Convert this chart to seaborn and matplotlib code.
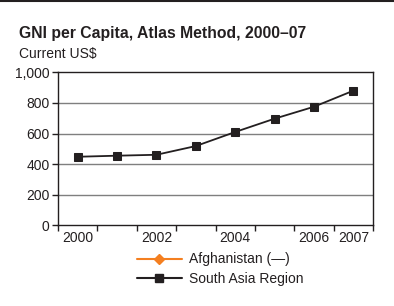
import matplotlib
matplotlib.use("Agg")
import matplotlib.pyplot as plt
import seaborn as sns
import pandas as pd
from matplotlib.lines import Line2D

years = ["2000", "2001", "2002", "2003", "2004", "2005", "2006", "2007"]
south_asia = [448, 455, 461, 518, 610, 697, 775, 880]
year_labels = ["2000", "", "2002", "", "2004", "", "2006", "2007"]
y_ticks = [0, 200, 400, 600, 800, 1000]
y_tick_labels = ["0", "200", "400", "600", "800", "1,000"]
title = "GNI per Capita, Atlas Method, 2000–07"
subtitle = "Current US$"
series_names = ["Afghanistan (—)", "South Asia Region"]

sns.set_theme(style="white")
plt.rcParams['font.family'] = ['Liberation Sans', 'DejaVu Sans']

df = pd.DataFrame({"x": list(range(len(years))), "value": south_asia})

fig = plt.figure(figsize=(3.94, 3.06), dpi=100)
ax = fig.add_axes([0.147, 0.2637, 0.8, 0.5])

for v in y_ticks[1:-1]:
    ax.axhline(v, color="#7f7f7f", lw=1.0, zorder=1)

sns.lineplot(data=df, x="x", y="value", ax=ax, color="#231f20", lw=1.3,
             marker="s", markersize=6, markeredgecolor="#231f20", zorder=3)

ax.set_xlim(-0.5, len(years) - 0.5)
ax.set_ylim(0, 1000)
ax.set_yticks(y_ticks)
ax.set_yticklabels(y_tick_labels, fontsize=10, color="#231f20")
ax.set_xticks([i - 0.5 for i in range(len(years) + 1)], minor=True)
ax.set_xticks(list(range(len(years))))
ax.set_xticklabels(year_labels, fontsize=10, color="#231f20")
ax.tick_params(axis="x", which="major", length=0, pad=4)
ax.tick_params(axis="x", which="minor", length=4, width=1, color="#231f20", direction="out", bottom=True)
ax.tick_params(axis="y", length=4, width=1, color="#231f20", direction="out", left=True, pad=2)
ax.set_xlabel("")
ax.set_ylabel("")
for s in ax.spines.values():
    s.set_color("#231f20")
    s.set_linewidth(1.0)

fig.text(19 / 394, 1 - 38 / 306, title, fontsize=11.3, fontweight="bold", color="#231f20",
         ha="left", va="baseline")
fig.text(19 / 394, 1 - 58 / 306, subtitle, fontsize=10, color="#231f20",
         ha="left", va="baseline")

fig.add_artist(Line2D([0, 1], [1 - 1 / 306, 1 - 1 / 306], color="#231f20", lw=1.5,
                      transform=fig.transFigure))

handles = [
    Line2D([], [], color="#f47f20", lw=1.5, marker="D", markersize=5, markeredgecolor="#f47f20"),
    Line2D([], [], color="#231f20", lw=1.5, marker="s", markersize=6, markeredgecolor="#231f20"),
]
fig.legend(handles, series_names, loc="upper left", bbox_to_anchor=(124 / 394, 1 - 240 / 306),
           frameon=False, fontsize=10, handlelength=3.3, labelspacing=0.4,
           handletextpad=0.45, labelcolor="#231f20")

fig.savefig("out.png", dpi=100)
